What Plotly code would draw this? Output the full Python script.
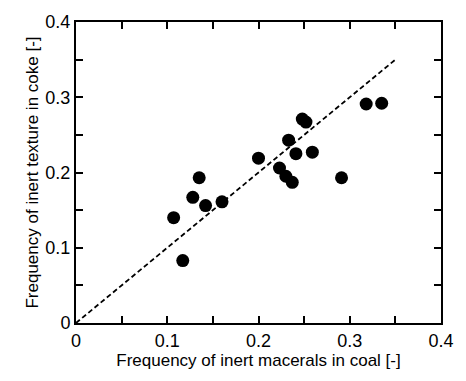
import plotly.graph_objects as go

coal = [0.107, 0.117, 0.128, 0.135, 0.142, 0.160, 0.200, 0.223, 0.230, 0.237,
        0.233, 0.241, 0.248, 0.252, 0.259, 0.291, 0.318, 0.335]
coke = [0.140, 0.083, 0.167, 0.193, 0.156, 0.161, 0.219, 0.206, 0.195, 0.187,
        0.243, 0.225, 0.271, 0.267, 0.227, 0.193, 0.291, 0.292]
line_x = [0.0, 0.35]
line_y = [0.0, 0.35]
tick_vals = [0, 0.05, 0.1, 0.15, 0.2, 0.25, 0.3, 0.35, 0.4]
tick_text = ["0", "", "0.1", "", "0.2", "", "0.3", "", "0.4"]

fig = go.Figure()
fig.add_trace(go.Scatter(x=line_x, y=line_y, mode="lines",
                         line=dict(color="black", width=1.8, dash="5px,3px"),
                         showlegend=False))
fig.add_trace(go.Scatter(x=coal, y=coke, mode="markers",
                         marker=dict(color="black", size=13),
                         showlegend=False))

font = "Liberation Sans, Arial, sans-serif"
tick_style = dict(range=[0, 0.4], tickmode="array", tickvals=tick_vals,
                  ticks="inside", ticklen=7, tickwidth=2, tickcolor="black",
                  showgrid=False, zeroline=False)
fig.update_layout(
    width=466, height=381,
    margin=dict(l=76, r=19, t=16, b=58),
    paper_bgcolor="white", plot_bgcolor="white",
    xaxis=dict(**tick_style, ticktext=tick_text,
               showline=True, linecolor="black", linewidth=2, mirror=True,
               tickfont=dict(family=font, size=18, color="black"),
               title=dict(text="Frequency of inert macerals in coal [-]",
                          font=dict(family=font, size=17, color="black"), standoff=5)),
    yaxis=dict(**tick_style, ticktext=tick_text,
               showline=True, linecolor="black", linewidth=2, mirror=True,
               tickfont=dict(family=font, size=18, color="black"),
               title=dict(text="Frequency of inert texture in coke [-]",
                          font=dict(family=font, size=17, color="black"), standoff=2)),
    xaxis2=dict(**tick_style, overlaying="x", side="top", showticklabels=False,
                showline=False),
    yaxis2=dict(**tick_style, overlaying="y", side="right", showticklabels=False,
                showline=False),
)
# invisible helper trace so the mirrored axes are drawn
fig.add_trace(go.Scatter(x=[None], y=[None], xaxis="x2", yaxis="y2",
                         showlegend=False, hoverinfo="skip"))
fig.write_html("out.html")
